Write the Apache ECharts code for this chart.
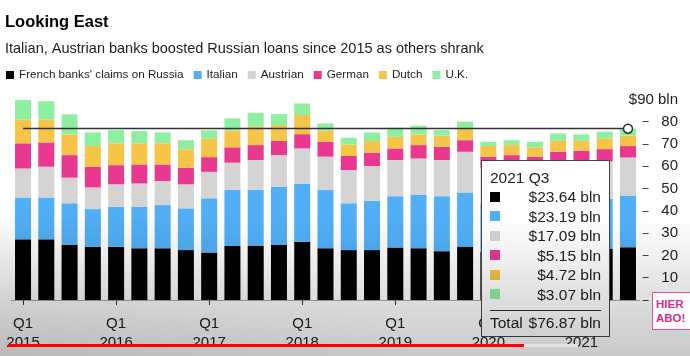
<!DOCTYPE html>
<html>
<head>
<meta charset="utf-8">
<script src="https://cdn.jsdelivr.net/npm/echarts@6/dist/echarts.min.js"></script>
<style>
html,body{margin:0;padding:0;background:#fff;overflow:hidden;}
#wrap{position:relative;width:690px;height:356px;}
#chart{position:absolute;left:0;top:0;width:690px;height:356px;}
#shade{position:absolute;left:0;top:0;width:690px;height:356px;pointer-events:none;z-index:2147483000;
  background:
    radial-gradient(ellipse 420px 150px at 0% 100%, rgba(0,0,0,0.08), rgba(0,0,0,0) 100%),
    linear-gradient(to bottom, rgba(0,0,0,0) 0%, rgba(0,0,0,0) 60%, rgba(0,0,0,0.06) 72%, rgba(0,0,0,0.13) 84%, rgba(0,0,0,0.21) 100%);}
#progress{position:absolute;left:8px;top:344px;width:516px;height:3px;background:#ff0000;z-index:2147483600;}
#buffer{position:absolute;left:524px;top:344px;width:54px;height:3px;background:#e2e2e2;z-index:2147483600;}
#abo{position:absolute;left:652px;top:292px;width:40px;height:38px;box-sizing:border-box;background:#fff;border:1px solid #e8479c;
  color:#d62d8a;font:bold 11.5px 'Liberation Sans',Arial,sans-serif;line-height:14px;padding-top:4px;padding-left:3px;z-index:2147483600;}
</style>
</head>
<body>
<div id="wrap">
  <div id="chart"></div>
  <div id="shade"></div>
  <div id="progress"></div>
  <div id="buffer"></div>
  <div id="abo">HIER<br>ABO!</div>
</div>
<script>
// ---------- data ----------
const quarters = [
  '2015 Q1','2015 Q2','2015 Q3','2015 Q4',
  '2016 Q1','2016 Q2','2016 Q3','2016 Q4',
  '2017 Q1','2017 Q2','2017 Q3','2017 Q4',
  '2018 Q1','2018 Q2','2018 Q3','2018 Q4',
  '2019 Q1','2019 Q2','2019 Q3','2019 Q4',
  '2020 Q1','2020 Q2','2020 Q3','2020 Q4',
  '2021 Q1','2021 Q2','2021 Q3'
];
const french   = [27.2, 27.2, 24.7, 23.9, 23.9, 23.2, 23.2, 22.4, 21.3, 24.2, 24.2, 24.7, 26.1, 23.2, 22.4, 22.4, 23.6, 23.2, 21.9, 23.8, 21.5, 21.8, 21.6, 22.4, 22.6, 22.9, 23.64];
const italian  = [18.8, 18.8, 18.7, 16.9, 17.9, 18.6, 19.4, 18.7, 24.3, 25.1, 25.1, 26.1, 26.2, 26.1, 21.0, 22.1, 23.0, 23.9, 24.7, 24.4, 21.5, 21.6, 21.4, 22.0, 22.2, 22.5, 23.19];
const austrian = [13.0, 13.8, 11.5, 9.7, 10.1, 10.5, 10.8, 10.8, 11.9, 12.3, 13.5, 14.2, 15.7, 15.0, 14.9, 15.6, 16.2, 16.4, 16.2, 18.3, 16.3, 16.4, 16.2, 16.6, 16.7, 16.8, 17.09];
const german   = [11.3, 10.9, 10.1, 9.3, 8.6, 8.5, 7.4, 7.4, 6.6, 6.9, 6.7, 6.4, 6.4, 6.7, 6.3, 6.0, 5.2, 6.0, 5.9, 5.2, 5.0, 5.2, 5.1, 5.5, 5.5, 5.5, 5.15];
const dutch    = [10.7, 10.3, 9.3, 9.3, 9.8, 9.5, 9.5, 8.3, 8.3, 7.4, 8.2, 7.1, 8.6, 4.9, 5.2, 5.2, 5.2, 4.8, 5.0, 5.0, 4.8, 4.5, 4.2, 4.9, 4.4, 4.8, 4.72];
const uk       = [8.7, 8.2, 9.0, 6.1, 5.9, 5.5, 4.9, 4.1, 3.7, 5.6, 6.3, 4.9, 5.2, 3.3, 3.0, 3.9, 4.1, 3.9, 2.5, 3.3, 1.9, 2.2, 2.5, 3.3, 2.9, 3.0, 3.07];
const lastTotal = 76.87;
const seriesNames = ["French banks' claims on Russia", 'Italian', 'Austrian', 'German', 'Dutch', 'U.K.'];
const yTicks = [0, 10, 20, 30, 40, 50, 60, 70, 80];
const yTopLabel = '$90 bln';
const titleText = 'Looking East';
const subtitleText = 'Italian, Austrian banks boosted Russian loans since 2015 as others shrank';

// ---------- style ----------
const seriesValues = [french, italian, austrian, german, dutch, uk];
const seriesColors = ['#000000', '#52aff6', '#d4d4d4', '#e9388f', '#f6c548', '#8eefa2'];
const FONT = "'Liberation Sans', Arial, sans-serif";
const lastIdx = quarters.length - 1;

function tipHtml() {
  let h = '<div style="width:111px;font-family:' + FONT.replace(/'/g, '') + ';font-size:15.5px;color:#222;line-height:19px;">';
  h += '<div>' + quarters[lastIdx] + '</div>';
  seriesValues.forEach(function (arr, k) {
    h += '<div style="display:flex;align-items:center;height:19.5px;">' +
         '<span style="display:inline-block;width:10px;height:10px;background:' + seriesColors[k] + ';"></span>' +
         '<span style="margin-left:auto;">$' + arr[lastIdx].toFixed(2) + ' bln</span></div>';
  });
  h += '<div style="border-top:1px solid #333;margin:6px 0 2px 0;"></div>';
  h += '<div style="display:flex;justify-content:space-between;"><span>Total</span><span>$' + lastTotal.toFixed(2) + ' bln</span></div>';
  h += '</div>';
  return h;
}

const isQ1 = function (index, value) { return String(value).slice(-2) === 'Q1'; };

const series = seriesValues.map(function (arr, k) {
  const s = {
    name: seriesNames[k],
    type: 'bar',
    stack: 'total',
    barWidth: 16,
    data: arr,
    itemStyle: { color: seriesColors[k] },
    emphasis: { disabled: true }
  };
  if (k === 0) {
    s.markLine = {
      silent: true,
      symbol: ['none', 'none'],
      z: 10,
      label: { show: false },
      lineStyle: { color: '#333', width: 1.3, type: 'solid' },
      data: [[{ coord: [quarters[0], lastTotal] }, { coord: [quarters[lastIdx], lastTotal] }]]
    };
    s.markPoint = {
      silent: true,
      z: 11,
      symbol: 'circle',
      symbolSize: 9,
      label: { show: false },
      itemStyle: { color: '#fff', borderColor: '#333', borderWidth: 1.5 },
      data: [{ coord: [quarters[lastIdx], lastTotal] }]
    };
  }
  return s;
});

const chart = echarts.init(document.getElementById('chart'), null, { renderer: 'canvas' });
chart.setOption({
  animation: false,
  backgroundColor: 'transparent',
  title: [
    { text: titleText, left: 5, top: 14, padding: 0,
      textStyle: { fontFamily: FONT, fontSize: 16.5, fontWeight: 'bold', color: '#000' } },
    { text: subtitleText, left: 5, top: 41, padding: 0,
      textStyle: { fontFamily: FONT, fontSize: 14.5, fontWeight: 'normal', color: '#222' } }
  ],
  legend: {
    data: seriesNames,
    left: 6, top: 69, padding: 0,
    itemWidth: 8, itemHeight: 8, itemGap: 10,
    icon: 'rect',
    selectedMode: false,
    textStyle: { fontFamily: FONT, fontSize: 11.7, color: '#222' }
  },
  grid: { left: 11.4, right: 50.4, top: 99.4, bottom: 56, containLabel: false },
  xAxis: {
    type: 'category',
    data: quarters,
    boundaryGap: true,
    axisLine: { show: true, lineStyle: { color: '#aaa', width: 1 } },
    axisTick: { show: true, alignWithLabel: true, interval: isQ1, length: 5, lineStyle: { color: '#333' } },
    axisLabel: {
      interval: isQ1,
      margin: 14,
      fontFamily: FONT, fontSize: 15, lineHeight: 19, color: '#222',
      formatter: function (v) { const p = v.split(' '); return p[1] + '\n' + p[0]; }
    },
    splitLine: { show: false }
  },
  yAxis: {
    type: 'value',
    position: 'right',
    min: 0, max: 90, interval: 10,
    offset: 3,
    axisLine: { show: false },
    axisTick: { show: true, length: 6, lineStyle: { color: '#444' }, customValues: yTicks },
    axisLabel: {
      align: 'right', margin: 35.4,
      fontFamily: FONT, fontSize: 15, color: '#222',
      formatter: function (v) { return v === 90 ? yTopLabel : String(v); }
    },
    splitLine: { show: false }
  },
  tooltip: {
    trigger: 'axis',
    triggerOn: 'none',
    alwaysShowContent: true,
    showDelay: 0,
    transitionDuration: 0,
    axisPointer: { type: 'none' },
    position: [481, 160],
    backgroundColor: '#fff',
    borderColor: '#444',
    borderWidth: 1,
    padding: [7, 8, 4, 8],
    extraCssText: 'box-shadow:none;border-radius:0;',
    formatter: tipHtml
  },
  series: series
});
chart.dispatchAction({ type: 'showTip', seriesIndex: 0, dataIndex: lastIdx });
</script>
</body>
</html>
